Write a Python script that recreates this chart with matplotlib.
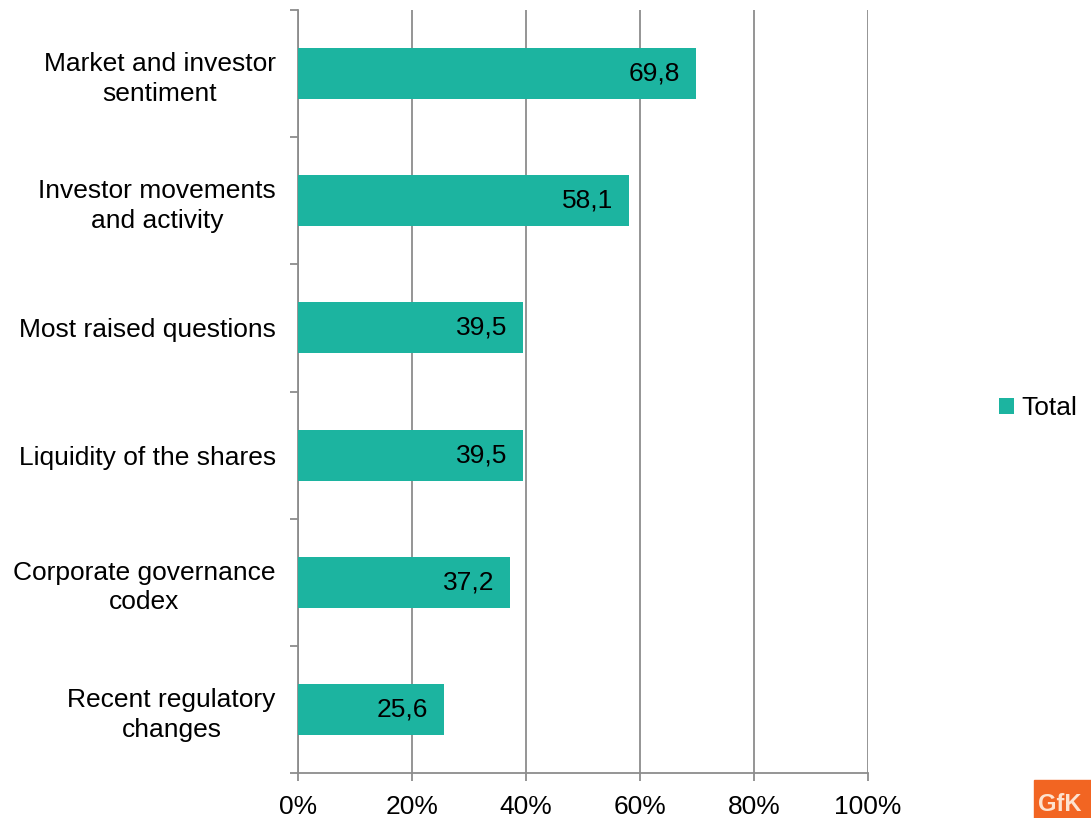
import numpy as np
import matplotlib.pyplot as plt
from matplotlib.patches import Rectangle

categories = [
    "Market and investor\nsentiment",
    "Investor movements\nand activity",
    "Most raised questions",
    "Liquidity of the shares",
    "Corporate governance\ncodex",
    "Recent regulatory\nchanges",
]
values = [69.8, 58.1, 39.5, 39.5, 37.2, 25.6]
xticks = [0, 20, 40, 60, 80, 100]

plt.rcParams['font.family'] = ['Liberation Sans', 'DejaVu Sans']
teal = '#1cb4a0'
grey = '#8c8c8c'
fs = 19

fig = plt.figure(figsize=(10.91, 8.18), dpi=100)
ax = fig.add_axes([298/1091, 45/818, 570/1091, 763/818])

n = len(categories)
ypos = np.arange(n)
bars = ax.barh(ypos, values, height=0.4, color=teal, zorder=3, label='Total')
ax.set_ylim(n - 0.5, -0.5)
ax.set_xlim(0, 100)

for b, v in zip(bars, values):
    ax.annotate(f"{v:.1f}".replace('.', ','),
                xy=(v, b.get_y() + b.get_height() / 2),
                xytext=(-11.5, 0), textcoords='offset points',
                ha='right', va='center', fontsize=fs, color='black', zorder=4)

# category labels sit between the boundary ticks
ax.set_yticks(ypos)
ax.set_yticklabels(categories, fontsize=fs, multialignment='center',
                   linespacing=1.3)
ax.tick_params(axis='y', which='major', length=0, pad=16)
ax.set_yticks(np.arange(-0.5, n), minor=True)
ax.tick_params(axis='y', which='minor', length=6, width=1.3, color=grey)

ax.set_xticks(xticks)
ax.set_xticklabels([f"{t}%" for t in xticks], fontsize=fs)
ax.tick_params(axis='x', length=6, width=1.3, color=grey, pad=10)

ax.grid(axis='x', color=grey, linewidth=1.3, zorder=0)
for side in ['top', 'right']:
    ax.spines[side].set_visible(False)
for side in ['left', 'bottom']:
    ax.spines[side].set_color(grey)
    ax.spines[side].set_linewidth(1.3)

fig.legend(handles=[bars], labels=['Total'], loc='center left',
           bbox_to_anchor=(999/1091, 1 - 408/818), frameon=False,
           fontsize=fs, handlelength=0.55, handleheight=0.55,
           handletextpad=0.3, borderpad=0, borderaxespad=0)

# corner logo
fig.patches.append(Rectangle((1034/1091, 0), 60/1091, 38/818,
                             transform=fig.transFigure, color='#f26522',
                             zorder=5))
fig.text(1038/1091, 2/818, "GfK", color='#fde2cf', fontsize=17,
         fontweight='bold', ha='left', va='bottom', zorder=6)

fig.savefig('out.png', dpi=100)
